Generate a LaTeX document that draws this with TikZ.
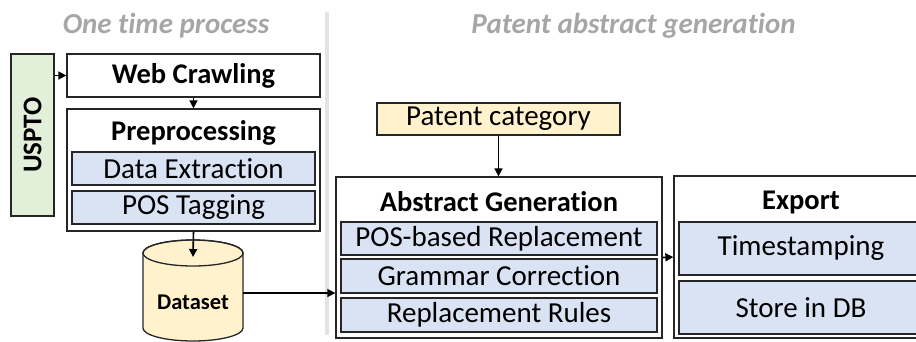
\documentclass[tikz,border=0pt]{standalone}
\usepackage{fontspec}
\setmainfont[Ligatures=NoCommon]{Carlito}
\usetikzlibrary{arrows.meta}
\definecolor{headgray}{HTML}{A6A6A6}
\definecolor{sepgray}{HTML}{E3E3E3}
\definecolor{stepblue}{HTML}{DAE3F3}
\definecolor{srcgreen}{HTML}{E2F0D9}
\definecolor{inyellow}{HTML}{FFF2CC}
\definecolor{edge}{HTML}{262626}
\begin{document}
\begin{tikzpicture}[x=1pt,y=-1pt,
  outerbox/.style={draw=edge, line width=1.3pt, fill=white, inner sep=0pt},
  innerbox/.style={draw=edge, line width=1.5pt, fill=stepblue, inner sep=0pt,
    font=\fontsize{29}{33}\selectfont},
  boxtitle/.style={inner sep=0pt, font=\fontsize{28.5}{32}\selectfont\bfseries},
  section/.style={inner sep=0pt, text=headgray, font=\fontsize{29}{33}\selectfont\bfseries\itshape},
  arr/.style={-{Triangle[length=8pt,width=8pt]}, line width=1.6pt, draw=black},
]
\useasboundingbox (0,0) rectangle (916,341);

% section headings and divider
\node[section] (h1) at (166,26) {One time process};
\node[section] (h2) at (633.5,26) {Patent abstract generation};
\draw[line width=4pt, sepgray] (327,12) -- (327,335);

% data source
\node[outerbox, fill=srcgreen, minimum width=43pt, minimum height=162pt] (uspto) at (32.5,135) {};
\node[rotate=90, inner sep=0pt, font=\fontsize{27}{31}\selectfont\bfseries] (usptotext) at (uspto.center) {USPTO};

% one time process
\node[outerbox, minimum width=253pt, minimum height=43pt] (web) at (193.5,75.5) {};
\node[boxtitle] (webtext) at (web.center) {Web Crawling};
\node[outerbox, minimum width=253pt, minimum height=122pt] (prep) at (193.5,170) {};
\node[boxtitle] (preptitle) at (193.5,133) {Preprocessing};
\node[innerbox, minimum width=243pt, minimum height=33pt] (extract) at (193.5,168.5) {Data Extraction};
\node[innerbox, minimum width=243pt, minimum height=33pt] (tagging) at (193.5,207.5) {POS Tagging};

% dataset cylinder
\filldraw[draw=edge, line width=1.3pt, fill=inyellow]
  (143,253) -- (143,328) arc[start angle=180, end angle=360, x radius=50pt, y radius=13pt]
  -- (243,253) arc[start angle=0, end angle=180, x radius=50pt, y radius=13pt] -- cycle;
\draw[draw=edge, line width=1.3pt] (193,253) ellipse[x radius=50pt, y radius=13pt];
\node[inner sep=0pt, font=\fontsize{22.5}{26}\selectfont\bfseries] (db) at (193,302) {Dataset};
\coordinate (dbtop) at (193,257);
\coordinate (dbright) at (243,293);

% patent abstract generation
\node[outerbox, fill=inyellow, minimum width=243pt, minimum height=32pt,
  font=\fontsize{29}{33}\selectfont] (cat) at (498.5,119) {Patent category};
\node[outerbox, minimum width=326pt, minimum height=161pt] (gen) at (499,257.5) {};
\node[boxtitle] (gentitle) at (499,202) {Abstract Generation};
\node[innerbox, minimum width=316pt, minimum height=33pt] (posrep) at (499,238.5) {POS-based Replacement};
\node[innerbox, minimum width=316pt, minimum height=34pt] (gram) at (499,276) {Grammar Correction};
\node[innerbox, minimum width=316pt, minimum height=34pt] (rules) at (499,315) {Replacement Rules};

% export
\node[outerbox, minimum width=254pt, minimum height=162pt] (export) at (801,257) {};
\node[boxtitle] (exporttitle) at (801,202) {Export};
\node[innerbox, minimum width=244pt, minimum height=53pt] (stamp) at (801,248.5) {Timestamping};
\node[innerbox, minimum width=244pt, minimum height=53pt] (store) at (801,307.5) {Store in DB};

% connectors
\draw[arr] (uspto.east |- web.west) -- (web.west);
\draw[arr] (web.south) -- (prep.north);
\draw[arr] (prep.south) -- (dbtop);
\draw[arr] (dbright) -- (dbright -| gen.west);
\draw[arr] (cat.south) -- (cat.south |- gen.north);
\draw[arr] (gen.east) -- (export.west);
\end{tikzpicture}
\end{document}
